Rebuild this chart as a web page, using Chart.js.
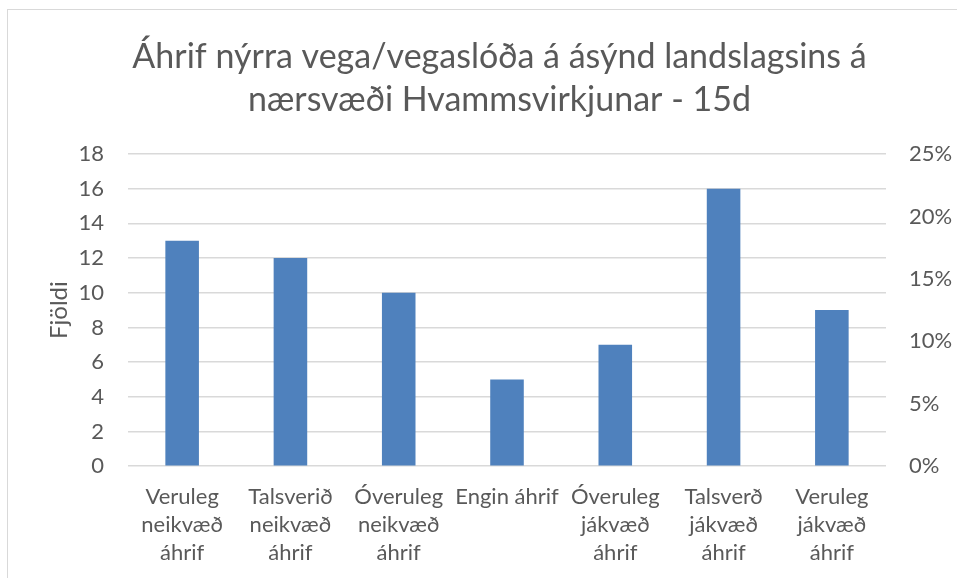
<!DOCTYPE html>
<html>
<head>
<meta charset="utf-8">
<script src="https://cdn.jsdelivr.net/npm/chart.js@4"></script>
<style>
  html, body { margin: 0; padding: 0; background: #fff; }
  #wrap { position: relative; width: 957px; height: 578px; }
  #frame { position: absolute; left: 7px; top: 9px; width: 980px; height: 600px; border: 1.5px solid #d9d9d9; box-sizing: border-box; }
  canvas { position: absolute; left: 0; top: 0; }
</style>
</head>
<body>
<div id="wrap">
  <div id="frame"></div>
  <canvas id="chart" width="957" height="578"></canvas>
</div>
<script>
const categories = [
    ["Veruleg", "neikvæð", "áhrif"],
    ["Talsverið", "neikvæð", "áhrif"],
    ["Óveruleg", "neikvæð", "áhrif"],
    "Engin áhrif",
    ["Óveruleg", "jákvæð", "áhrif"],
    ["Talsverð", "jákvæð", "áhrif"],
    ["Veruleg", "jákvæð", "áhrif"]
];
const counts = [13, 12, 10, 5, 7, 16, 9];
const titleLines = ["Áhrif nýrra vega/vegaslóða á ásýnd landslagsins á", "nærsvæði Hvammsvirkjunar - 15d"];
const yTitle = "Fjöldi";

const text_colour = "#595959";
const grid_colour = "#d9d9d9";
const font_family = "Lato, 'Noto Sans', sans-serif";

const ctx = document.getElementById("chart").getContext("2d");

new Chart(ctx, {
    type: "bar",
    data: {
        labels: categories,
        datasets: [{
            label: yTitle,
            data: counts,
            backgroundColor: "#4f81bd",
            barPercentage: 0.31,
            categoryPercentage: 1
        }]
    },
    options: {
        responsive: false,
        animation: false,
        layout: { padding: { left: 45, right: 3, top: 14, bottom: 11 } },
        plugins: {
            legend: { display: false },
            tooltip: { enabled: false },
            title: {
                display: true,
                text: titleLines,
                color: text_colour,
                font: { family: font_family, size: 34, weight: "normal", lineHeight: 1.25 },
                padding: { top: 22, bottom: 33 }
            }
        },
        scales: {
            x: {
                // transparent tick marks give the gap under the axis
                grid: { display: true, drawOnChartArea: false, drawTicks: true, tickLength: 17, tickColor: "rgba(0,0,0,0)" },
                border: { display: false },
                ticks: {
                    color: text_colour,
                    font: { family: font_family, size: 22, lineHeight: 1.27 },
                    padding: 0,
                    maxRotation: 0,
                    autoSkip: false
                }
            },
            y: {
                position: "left",
                min: 0,
                max: 18,
                afterFit: (scale) => { scale.width = 83; },
                grid: { color: grid_colour, lineWidth: 1.5, drawTicks: false },
                border: { display: false },
                ticks: {
                    stepSize: 2,
                    color: text_colour,
                    font: { family: font_family, size: 22 },
                    padding: 24
                },
                title: {
                    display: true,
                    text: yTitle,
                    color: text_colour,
                    font: { family: font_family, size: 24 },
                    padding: { top: 0, bottom: 6 }
                }
            },
            y1: {
                position: "right",
                min: 0,
                max: 0.25,
                afterFit: (scale) => { scale.width = 68; },
                grid: { display: false, drawTicks: false },
                border: { display: false },
                ticks: {
                    stepSize: 0.05,
                    color: text_colour,
                    font: { family: font_family, size: 22 },
                    padding: 23,
                    callback: (v) => Math.round(v * 100) + "%"
                }
            }
        }
    }
});
</script>
</body>
</html>
